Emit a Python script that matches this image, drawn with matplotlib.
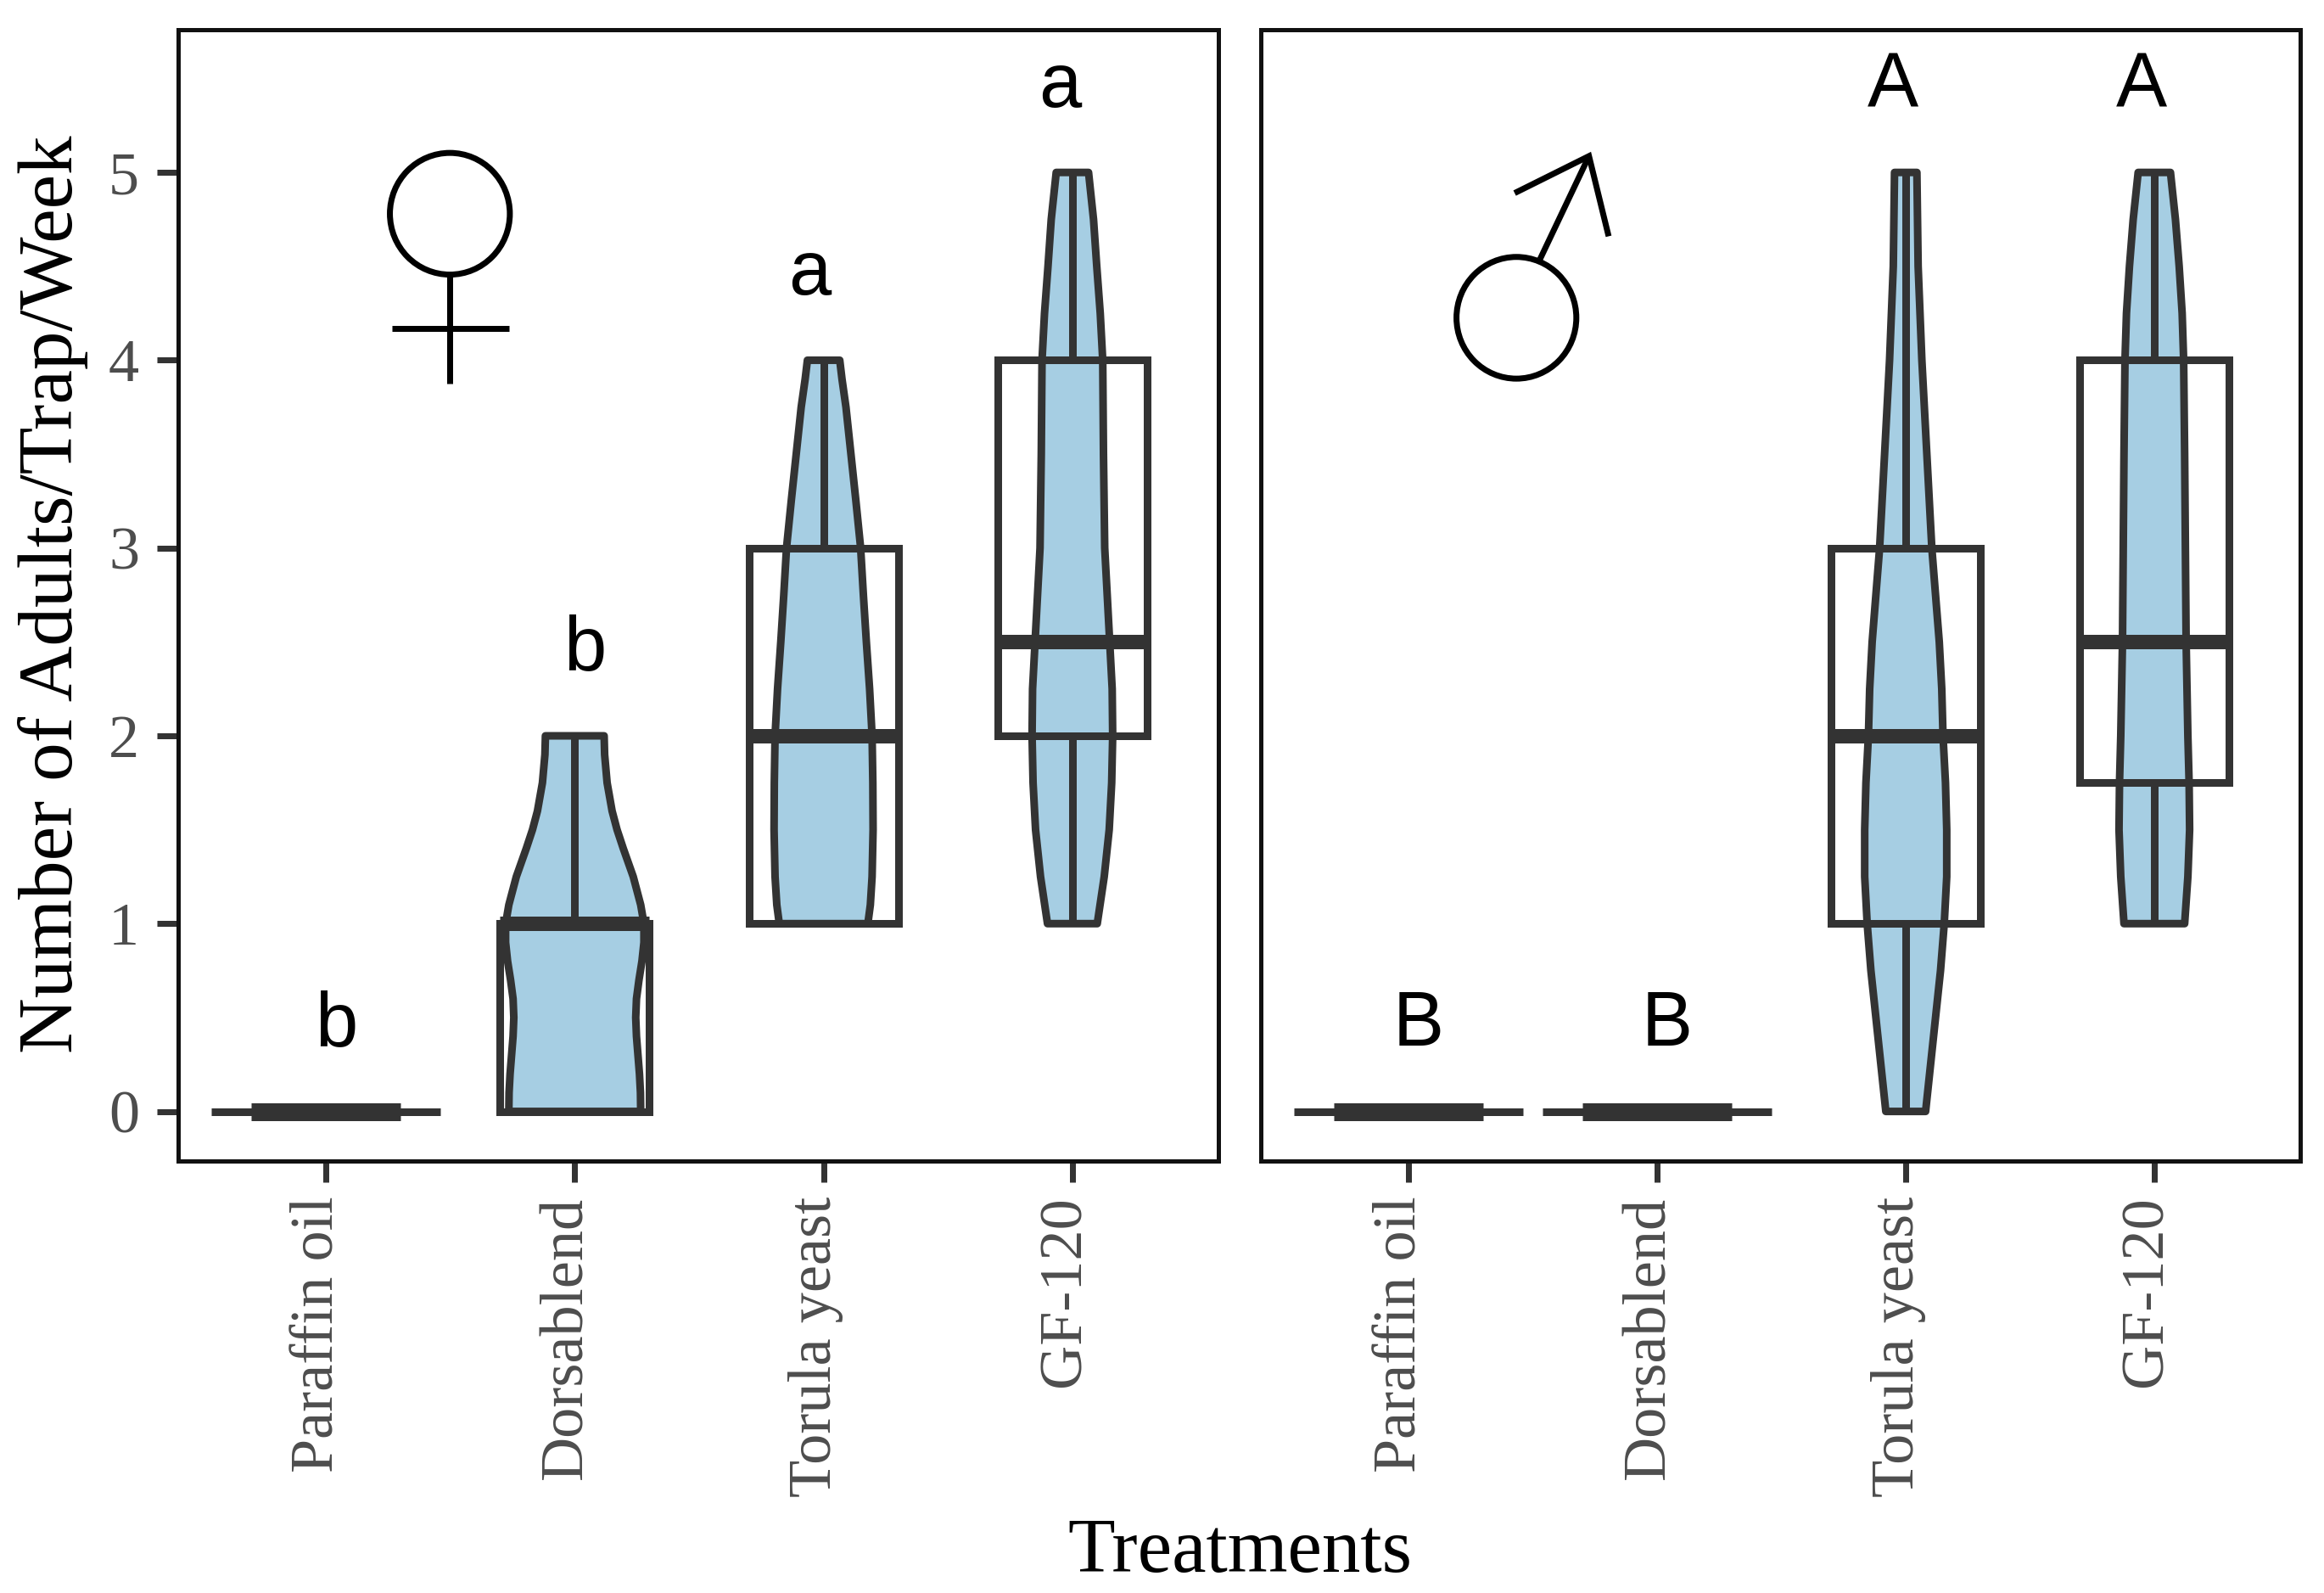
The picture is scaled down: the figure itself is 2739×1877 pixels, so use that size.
import matplotlib
matplotlib.use("Agg")
import matplotlib.pyplot as plt
from matplotlib.patches import Ellipse, Rectangle
from matplotlib.transforms import ScaledTranslation

W, H, DPI = 2739, 1877, 100
PX = 72 / DPI

treatments = ["Paraffin oil", "Dorsablend", "Torula yeast", "GF-120"]
ticks_y = [0, 1, 2, 3, 4, 5]

# Violin outlines: y positions and half-widths
f_par_y = [0, 0]
f_par_w = [0.46, 0.46]
f_dor_y = [0, 0.1, 0.2, 0.3, 0.4, 0.5, 0.6, 0.7, 0.8, 0.9, 1, 1.1, 1.25, 1.4, 1.5, 1.6, 1.75, 1.9, 2]
f_dor_w = [0.265, 0.264, 0.26, 0.254, 0.248, 0.245, 0.248, 0.258, 0.27, 0.278, 0.278, 0.265, 0.235, 0.195, 0.17, 0.15, 0.13, 0.12, 0.118]
f_tor_y = [1, 1.1, 1.25, 1.5, 1.75, 2, 2.25, 2.5, 2.75, 3, 3.25, 3.5, 3.75, 3.9, 4]
f_tor_w = [0.178, 0.188, 0.195, 0.199, 0.198, 0.195, 0.185, 0.172, 0.16, 0.149, 0.13, 0.11, 0.09, 0.074, 0.065]
f_gf_y = [1, 1.25, 1.5, 1.75, 2, 2.25, 2.5, 2.75, 3, 3.5, 4, 4.25, 4.5, 4.75, 5]
f_gf_w = [0.10, 0.128, 0.148, 0.158, 0.162, 0.16, 0.15, 0.14, 0.13, 0.125, 0.122, 0.112, 0.098, 0.085, 0.065]

m_par_y = [0, 0]
m_par_w = [0.46, 0.46]
m_dor_y = [0, 0]
m_dor_w = [0.46, 0.46]
m_tor_y = [0, 0.25, 0.5, 0.75, 1, 1.25, 1.5, 1.75, 2, 2.25, 2.5, 2.75, 3, 3.25, 3.5, 3.75, 4, 4.5, 5]
m_tor_w = [0.08, 0.10, 0.12, 0.14, 0.155, 0.165, 0.165, 0.16, 0.15, 0.145, 0.135, 0.12, 0.105, 0.095, 0.085, 0.075, 0.065, 0.05, 0.045]
m_gf_y = [1, 1.25, 1.5, 1.75, 2, 2.5, 3, 3.5, 4, 4.25, 4.5, 4.75, 5]
m_gf_w = [0.122, 0.135, 0.142, 0.14, 0.135, 0.128, 0.125, 0.122, 0.118, 0.112, 0.10, 0.085, 0.065]

# Box statistics: whisker low, q1, median, q3, whisker high
f_par = [0, 0, 0, 0, 0]
f_dor = [0, 0, 1, 1, 2]
f_tor = [1, 1, 2, 3, 4]
f_gf = [1, 2, 2.5, 4, 5]
m_par = [0, 0, 0, 0, 0]
m_dor = [0, 0, 0, 0, 0]
m_tor = [0, 1, 2, 3, 5]
m_gf = [1, 1.75, 2.5, 4, 5]

# Significance letters
f_letters = ["b", "b", "a", "a"]
f_letter_y = [0.35, 2.35, 4.35, 5.35]
m_letters = ["B", "B", "A", "A"]
m_letter_y = [0.35, 0.35, 5.35, 5.35]
f_letter_x = [1.04, 2.04, 2.945, 3.95]
m_letter_x = [1.04, 2.04, 2.95, 3.95]

FILL = "#A6CEE3"
DARK = "#333333"
GRAY = "#4D4D4D"
SERIF = "Liberation Serif"
SANS = "Liberation Sans"
LW = 9 * PX
BOX_HW = 0.3

fig = plt.figure(figsize=(W / DPI, H / DPI), dpi=DPI, facecolor="white")


def make_axes(x0, x1, y0=35, y1=1368):
    return fig.add_axes([x0 / W, 1 - y1 / H, (x1 - x0) / W, (y1 - y0) / H])


def draw_group(ax, pos, vy, vw, stats):
    xs = [pos - w for w in vw] + [pos + w for w in reversed(vw)]
    ys = list(vy) + list(reversed(vy))
    ax.fill(xs, ys, facecolor=FILL, edgecolor=DARK, lw=LW, closed=True,
            joinstyle="round", zorder=2)
    lo, q1, med, q3, hi = stats
    ax.plot([pos, pos], [q3, hi], color=DARK, lw=LW, solid_capstyle="butt", zorder=3)
    ax.plot([pos, pos], [lo, q1], color=DARK, lw=LW, solid_capstyle="butt", zorder=3)
    ax.add_patch(Rectangle((pos - BOX_HW, q1), 2 * BOX_HW, q3 - q1, fill=False,
                           edgecolor=DARK, lw=LW, joinstyle="miter", zorder=4))
    thick = 21 if q1 == q3 else 17
    ax.plot([pos - BOX_HW, pos + BOX_HW], [med, med], color=DARK, lw=thick * PX,
            solid_capstyle="butt", zorder=5)


def style(ax, show_y):
    ax.set_xlim(0.406, 4.587)
    ax.set_ylim(-0.264, 5.76)
    for s in ax.spines.values():
        s.set_linewidth(5 * PX)
        s.set_color("#111111")
    ax.set_xticks([1, 2, 3, 4])
    ax.set_xticklabels(treatments, rotation=90, va="top", ha="center",
                       family=SERIF, fontsize=52, color=GRAY)
    ax.tick_params(axis="x", length=25 * PX, width=7 * PX, color=DARK, pad=12)
    off = ScaledTranslation(-9 / DPI, 0, fig.dpi_scale_trans)
    for lab in ax.get_xticklabels():
        lab.set_transform(lab.get_transform() + off)
    if show_y:
        ax.set_yticks(ticks_y)
        ax.set_yticklabels([str(t) for t in ticks_y], family=SERIF, fontsize=52, color=GRAY)
        ax.tick_params(axis="y", length=25 * PX, width=7 * PX, color=DARK, pad=15)
    else:
        ax.set_yticks([])


def letters(ax, xs, ys, labels):
    for x, y, t in zip(xs, ys, labels):
        ax.text(x, y, t, family=SANS, fontsize=65, color="black",
                ha="center", va="baseline", zorder=6)


ax1 = make_axes(210, 1436)
ax2 = make_axes(1486, 2711)

for i, (vy, vw, st) in enumerate([(f_par_y, f_par_w, f_par), (f_dor_y, f_dor_w, f_dor),
                                  (f_tor_y, f_tor_w, f_tor), (f_gf_y, f_gf_w, f_gf)]):
    draw_group(ax1, i + 1, vy, vw, st)
for i, (vy, vw, st) in enumerate([(m_par_y, m_par_w, m_par), (m_dor_y, m_dor_w, m_dor),
                                  (m_tor_y, m_tor_w, m_tor), (m_gf_y, m_gf_w, m_gf)]):
    draw_group(ax2, i + 1, vy, vw, st)

style(ax1, True)
style(ax2, False)
letters(ax1, f_letter_x, f_letter_y, f_letters)
letters(ax2, m_letter_x, m_letter_y, m_letters)

# Venus and Mars symbols
SYM_LW = 7 * PX
ax1.add_patch(Ellipse((1.498, 4.78), 0.482, 0.648, fill=False, edgecolor="black", lw=SYM_LW))
ax1.plot([1.498, 1.498], [4.46, 3.875], color="black", lw=SYM_LW, solid_capstyle="butt")
ax1.plot([1.265, 1.735], [4.17, 4.17], color="black", lw=SYM_LW, solid_capstyle="butt")

ax2.add_patch(Ellipse((1.434, 4.226), 0.482, 0.648, fill=False, edgecolor="black", lw=SYM_LW))
ax2.plot([1.529, 1.726], [4.538, 5.087], color="black", lw=SYM_LW, solid_capstyle="butt")
ax2.plot([1.427, 1.726, 1.805], [4.89, 5.087, 4.66], color="black", lw=SYM_LW,
         solid_capstyle="butt", solid_joinstyle="miter")

fig.text(63 / W, 1 - 700 / H, "Number of Adults/Trap/Week", rotation=90, family=SERIF,
         fontsize=65.5, color="black", ha="center", va="center")
fig.text(1461 / W, 1 - 1852 / H, "Treatments", family=SERIF, fontsize=65.5, color="black",
         ha="center", va="baseline")

fig.savefig("out.png", dpi=DPI, facecolor="white")
